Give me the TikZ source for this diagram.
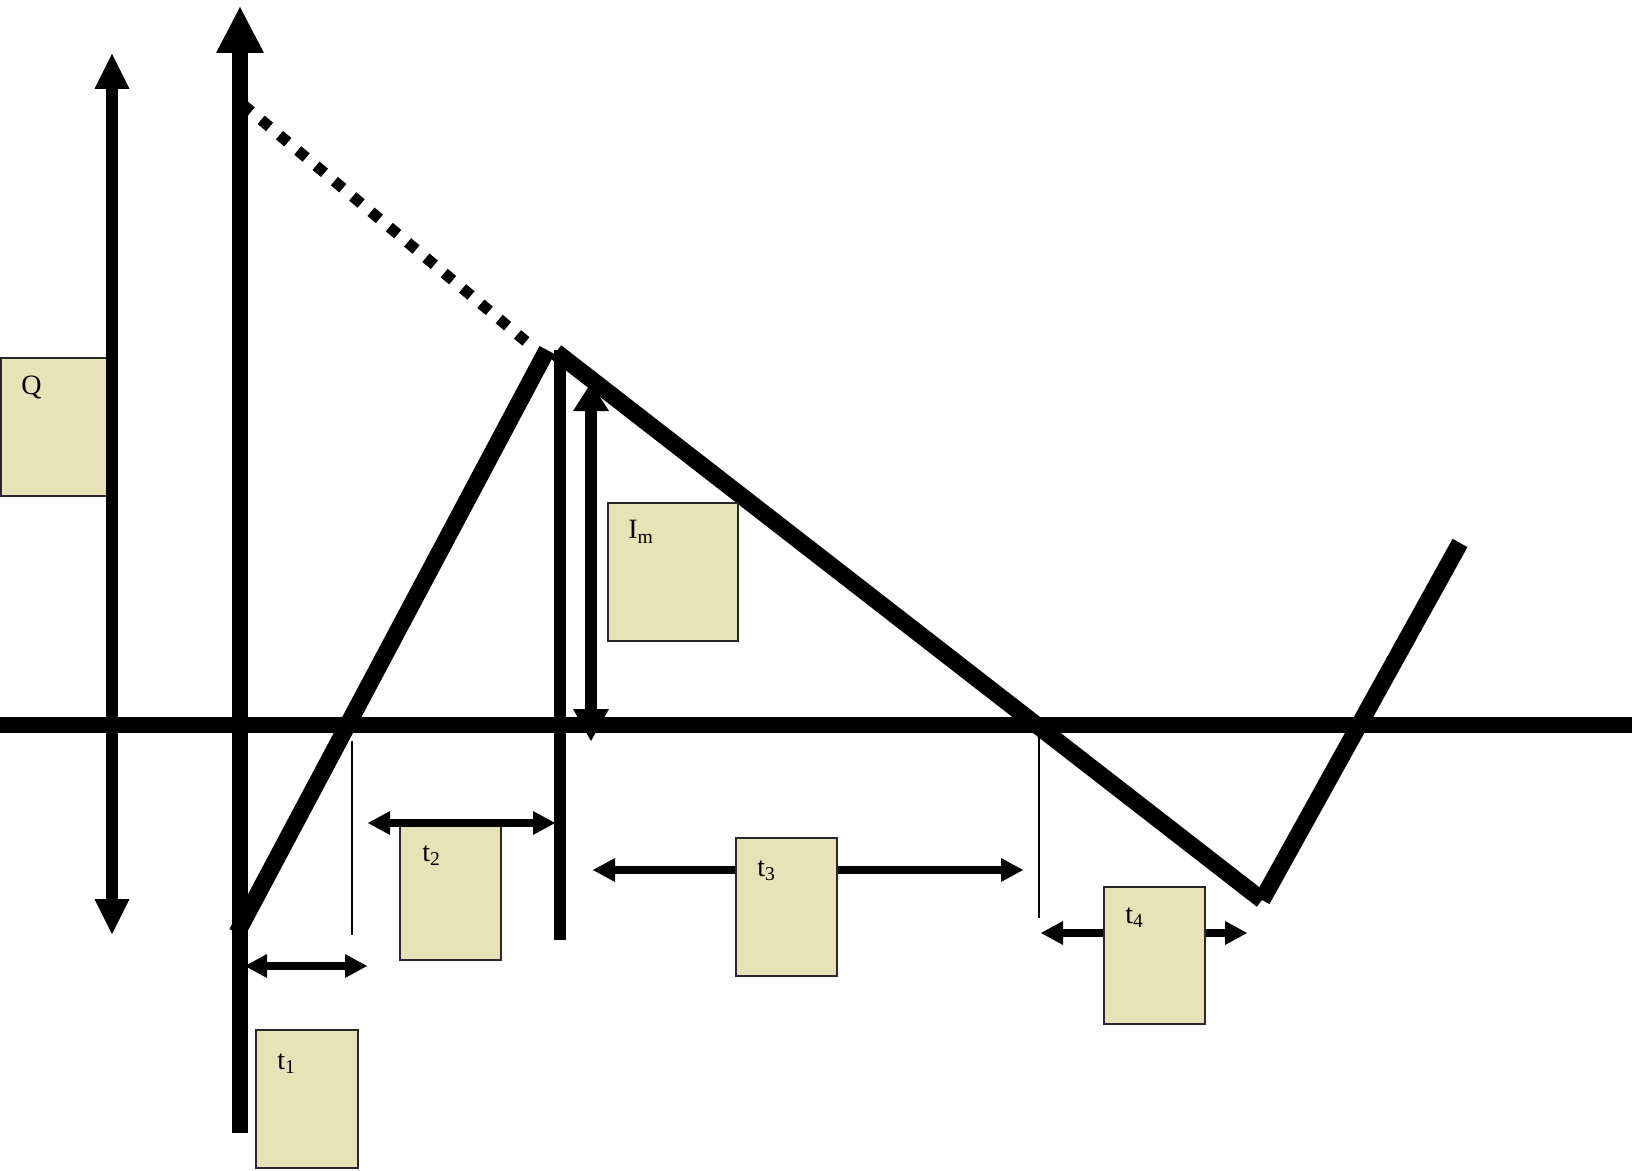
\documentclass[tikz,border=0pt]{standalone}
\usepackage{fontspec}
\setmainfont{Liberation Serif}
\usetikzlibrary{arrows.meta}
\definecolor{boxfill}{RGB}{232,226,184}
\definecolor{boxline}{RGB}{40,40,40}
\begin{document}
\begin{tikzpicture}[x=0.5pt,y=-0.5pt,
  beigebox/.style={draw=boxline,line width=1pt,fill=boxfill,inner sep=0pt,anchor=north west},
  lab/.style={inner sep=0pt,anchor=north west,font=\fontsize{14}{16}\selectfont},
  axisline/.style={line width=8pt},
  curveline/.style={line width=8.5pt,line cap=butt},
  bigtip/.style={-{Triangle[length=23pt,width=24pt,line width=0pt]}},
  dbltip/.style={{Triangle[length=17.5pt,width=17.5pt,line width=0pt]}-{Triangle[length=17.5pt,width=17.5pt,line width=0pt]}},
  imtip/.style={{Triangle[length=14pt,width=18pt,line width=0pt]}-{Triangle[length=16pt,width=18pt,line width=0pt]}},
  ttip/.style={line width=4pt,{Triangle[length=11pt,width=12pt,line width=0pt]}-{Triangle[length=11pt,width=12pt,line width=0pt]}},
  thinline/.style={line width=1.25pt},
  dotline/.style={line width=5.5pt,dash pattern=on 5.5pt off 6.44pt,line cap=butt}
]
\useasboundingbox (0,0) rectangle (1632,1171);

% coordinates
\coordinate (Ybot) at (240,1133);
\coordinate (Ytop) at (240,7);
\coordinate (Xl) at (0,725);
\coordinate (Xr) at (1632,725);
\coordinate (Qb) at (112,934);
\coordinate (Qt) at (112,54);
\coordinate (A) at (237,933);
\coordinate (P1) at (547,350);
\coordinate (P2) at (556,352);
\coordinate (V) at (1262,900);
\coordinate (E) at (1460,543);
\coordinate (D1) at (242.8,104.5);
\coordinate (D2) at (526,341.5);
\coordinate (Pv1) at (560,350);
\coordinate (Pv2) at (560,940);
\coordinate (Im1) at (591,383);
\coordinate (Im2) at (591,741);
\coordinate (T1a) at (245,966);
\coordinate (T1b) at (367,966);
\coordinate (T2a) at (368,823);
\coordinate (T2b) at (555,823);
\coordinate (T3a) at (593,870);
\coordinate (T3b) at (1023,870);
\coordinate (T4a) at (1041,933);
\coordinate (T4b) at (1247,933);
\coordinate (L1a) at (352,741);
\coordinate (L1b) at (352,935);
\coordinate (L2a) at (1039,734);
\coordinate (L2b) at (1039,918);

% axes
\draw[axisline] (Xl) -- (Xr);
\draw[axisline,bigtip] (Ybot) -- (Ytop);
\draw[line width=6pt,dbltip] (Qb) -- (Qt);

% curve
\draw[dotline] (D1) -- (D2);
\draw[curveline] (A) -- (P1);
\draw[line width=6pt] (Pv1) -- (Pv2);
\draw[line width=6pt,imtip] (Im1) -- (Im2);
\draw[curveline] (P2) -- (V);
\draw[curveline] (V) -- (E);

% thin markers
\draw[thinline] (L1a) -- (L1b);
\draw[thinline] (L2a) -- (L2b);

% interval arrows
\draw[ttip] (T1a) -- (T1b);
\draw[ttip] (T3a) -- (T3b);
\draw[ttip] (T4a) -- (T4b);

% boxes
\node[beigebox,minimum width=53pt,minimum height=69pt] (qbox) at (0,357) {};
\node[beigebox,minimum width=65pt,minimum height=69pt] (imbox) at (607,502) {};
\node[beigebox,minimum width=51pt,minimum height=69pt] (t1box) at (255,1029) {};
\node[beigebox,minimum width=50.5pt,minimum height=68pt] (t2box) at (399,823) {};
\node[beigebox,minimum width=50.5pt,minimum height=69pt] (t3box) at (735,837) {};
\node[beigebox,minimum width=50.5pt,minimum height=68.5pt] (t4box) at (1103,886) {};

\draw[ttip] (T2a) -- (T2b);
\draw[line width=6pt] (112,340) -- (112,520);

% labels
\node[lab] (qlab) at (21,376) {Q};
\node[lab] (imlab) at (628,520) {I\textsubscript{m}};
\node[lab] (t1lab) at (277,1053) {t\textsubscript{1}};
\node[lab] (t2lab) at (422,845) {t\textsubscript{2}};
\node[lab] (t3lab) at (757,860) {t\textsubscript{3}};
\node[lab] (t4lab) at (1125,907) {t\textsubscript{4}};
\end{tikzpicture}
\end{document}
